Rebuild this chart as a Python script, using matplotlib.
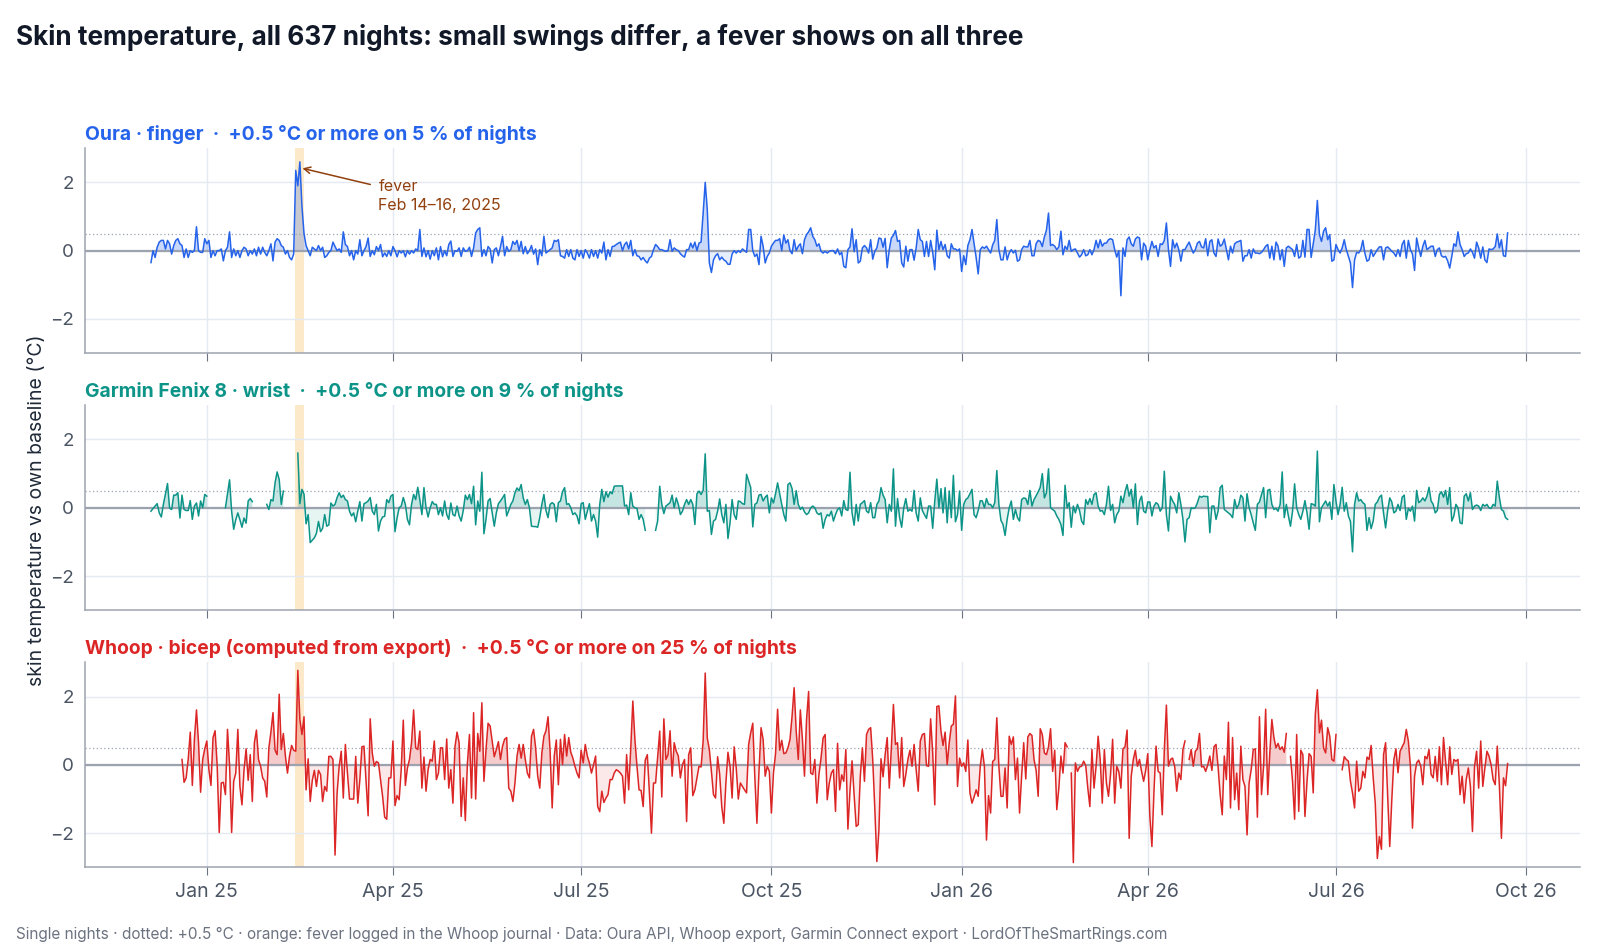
import numpy as np
import pandas as pd
import matplotlib
matplotlib.use("Agg")
import matplotlib.pyplot as plt
import matplotlib.dates as mdates

plt.rcParams['font.family'] = ['Inter', 'DejaVu Sans']

nan = np.nan

# nightly deviation from own baseline (°C), one value per night
oura_start = "2024-12-05"
oura = [
    -0.35, 0.0, -0.2, 0.1, 0.25, 0.3, 0.3, 0.05, 0.3, 0.2,
    -0.1, 0.15, 0.3, 0.35, 0.2, 0.15, -0.2, 0.05, -0.2, 0.0,
    -0.05, 0.0, 0.7, 0.0, -0.05, -0.05, 0.35, 0.2, 0.3, -0.2,
    0.0, -0.15, 0.0, 0.0, 0.05, -0.3, 0.0, 0.1, 0.55, -0.2,
    0.05, -0.15, 0.0, -0.2, 0.0, 0.1, 0.05, -0.15, 0.0, -0.1,
    0.05, -0.15, 0.1, -0.1, 0.1, -0.05, -0.15, 0.0, 0.2, -0.3,
    0.25, 0.35, 0.3, 0.15, 0.1, -0.1, 0.0, -0.2, -0.27, -0.1,
    2.35, 1.9, 2.6, 1.3, 0.5, 0.15, 0.0, -0.15, 0.1, 0.05,
    0.0, 0.15, 0.0, 0.1, -0.2, -0.15, -0.05, 0.0, 0.25, 0.12,
    0.0, 0.05, -0.05, 0.55, 0.18, 0.12, -0.15, 0.0, -0.27, 0.0,
    -0.1, 0.32, -0.15, 0.0, 0.12, 0.37, -0.17, 0.0, -0.12, 0.12,
    0.0, 0.18, -0.18, -0.07, -0.17, 0.0, -0.15, 0.12, 0.0, -0.18,
    0.0, -0.07, 0.0, -0.18, 0.0, -0.1, 0.0, -0.07, 0.05, 0.0,
    0.62, -0.17, 0.08, -0.18, 0.0, -0.25, 0.0, -0.15, 0.08, -0.27,
    0.12, -0.18, 0.0, -0.15, 0.18, 0.28, -0.17, 0.0, -0.02, 0.08,
    -0.17, 0.08, -0.02, 0.0, 0.1, -0.17, 0.08, 0.52, 0.62, 0.67,
    -0.17, 0.03, -0.15, 0.12, 0.05, -0.36, 0.03, 0.08, -0.15, 0.12,
    0.42, -0.15, 0.12, -0.02, 0.03, 0.27, 0.18, 0.3, 0.0, 0.27,
    -0.09, 0.12, -0.09, 0.0, 0.15, -0.1, 0.05, -0.41, 0.03, -0.15,
    0.42, -0.07, -0.02, 0.03, 0.08, 0.3, 0.27, 0.32, -0.15, -0.17,
    -0.22, 0.03, -0.17, 0.03, -0.22, -0.27, 0.03, -0.17, 0.0, -0.22,
    0.03, -0.07, -0.22, 0.03, -0.17, 0.0, -0.22, 0.03, -0.07, 0.25,
    -0.27, 0.03, -0.17, 0.12, 0.13, 0.18, 0.22, 0.25, 0.0, 0.18,
    0.25, 0.05, 0.3, -0.15, 0.03, -0.15, -0.17, -0.27, -0.2, -0.3,
    -0.36, -0.22, -0.17, 0.03, 0.18, 0.12, 0.03, 0.03, 0.0, -0.02,
    0.0, 0.32, -0.02, 0.08, 0.03, 0.0, -0.09, -0.15, -0.19, 0.03,
    0.03, 0.22, 0.08, 0.25, 0.0, 0.22, 0.25, 1.1, 2.0, 1.2,
    -0.36, -0.64, -0.27, -0.15, -0.09, -0.27, -0.19, -0.27, -0.31, -0.4,
    -0.4, -0.1, 0.0, -0.07, 0.0, -0.05, 0.05, 0.0, -0.05, 0.62,
    0.62, 0.0, -0.17, -0.1, -0.41, 0.42, 0.13, -0.36, -0.17, -0.07,
    0.13, 0.22, 0.3, 0.3, 0.35, 0.0, 0.46, 0.22, 0.32, 0.0,
    -0.09, 0.32, 0.0, 0.13, 0.2, -0.09, 0.32, 0.47, 0.55, 0.67,
    0.42, 0.32, 0.13, 0.2, -0.02, -0.07, -0.02, -0.07, -0.02, 0.0,
    0.0, -0.09, 0.05, -0.12, -0.05, -0.46, -0.5, 0.03, 0.11, 0.64,
    -0.03, 0.32, -0.36, -0.31, 0.08, 0.15, 0.08, -0.07, 0.32, -0.25,
    -0.02, 0.08, 0.37, 0.35, 0.1, 0.36, -0.5, 0.03, 0.37, 0.45,
    0.59, 0.27, 0.3, -0.36, -0.48, 0.13, -0.31, 0.03, 0.03, -0.28,
    0.08, 0.62, 0.32, 0.27, -0.17, 0.27, -0.17, 0.3, -0.05, -0.56,
    0.6, 0.03, 0.27, 0.03, 0.18, -0.15, -0.22, 0.2, 0.05, 0.05,
    0.0, 0.05, -0.61, -0.15, -0.41, 0.15, 0.32, 0.62, 0.2, -0.2,
    -0.68, 0.03, 0.11, 0.07, 0.13, 0.03, -0.07, 0.17, 0.3, 0.91,
    0.03, -0.27, -0.27, 0.11, -0.27, -0.07, 0.03, -0.07, 0.01, -0.31,
    -0.27, 0.03, 0.13, 0.11, 0.11, 0.3, -0.15, -0.15, 0.2, 0.3,
    0.27, 0.12, 0.4, 0.6, 1.1, 0.15, 0.18, 0.13, 0.03, 0.11,
    0.57, -0.12, 0.13, 0.03, 0.3, -0.02, 0.03, 0.05, -0.07, -0.19,
    -0.12, 0.03, -0.15, -0.12, 0.03, -0.12, 0.03, 0.3, 0.08, 0.32,
    0.13, 0.22, 0.22, 0.32, 0.35, 0.32, 0.03, -0.19, 0.0, -1.32,
    0.08, -0.17, 0.32, 0.4, 0.2, 0.13, 0.34, 0.4, 0.37, -0.27,
    0.22, 0.13, -0.27, 0.03, 0.27, 0.08, 0.15, -0.17, 0.2, 0.18,
    0.3, 0.81, 0.03, -0.46, 0.32, 0.08, 0.22, 0.03, -0.31, 0.03,
    0.03, 0.15, 0.25, 0.08, -0.07, 0.03, 0.22, 0.27, 0.11, 0.08,
    0.35, -0.15, 0.27, 0.32, -0.07, -0.17, 0.34, 0.13, 0.18, 0.34,
    0.03, -0.27, 0.13, -0.07, 0.2, 0.25, 0.27, 0.3, -0.31, -0.15,
    -0.15, 0.03, -0.22, 0.05, -0.07, -0.07, -0.09, -0.05, 0.03, 0.13,
    0.18, -0.22, 0.13, -0.27, 0.25, 0.13, -0.27, 0.03, -0.46, 0.08,
    0.13, 0.08, 0.03, -0.17, 0.18, -0.22, -0.17, 0.3, -0.19, 0.62,
    0.62, -0.2, 0.2, 0.6, 1.47, 0.47, 0.27, 0.57, 0.67, 0.32,
    0.47, -0.31, -0.27, 0.18, 0.03, -0.07, 0.08, 0.32, 0.03, -0.17,
    -0.36, -1.08, -0.27, -0.05, -0.07, 0.03, 0.3, -0.08, -0.31, -0.27,
    0.03, -0.17, -0.07, 0.03, 0.11, 0.11, -0.27, 0.08, 0.11, 0.05,
    -0.02, -0.07, -0.17, 0.03, -0.17, 0.18, 0.3, -0.22, 0.3, 0.03,
    -0.1, -0.58, 0.37, 0.08, -0.17, 0.13, 0.3, 0.03, 0.08, 0.13,
    0.13, -0.17, 0.03, 0.08, -0.15, -0.19, -0.17, -0.3, -0.51, -0.17,
    0.2, 0.13, 0.55, 0.18, 0.03, -0.17, -0.09, -0.07, 0.05, -0.05,
    -0.22, 0.25, 0.08, -0.22, 0.11, -0.27, -0.35, 0.05, 0.03, 0.05,
    0.12, 0.49, 0.08, 0.32, -0.15, -0.17, 0.52,
]

garmin_start = "2024-12-05"
garmin = [
    -0.1, -0.02, 0.05, 0.12, -0.15, -0.27, 0.1, 0.4, 0.71, -0.01,
    -0.05, 0.37, 0.37, 0.44, -0.3, 0.37, -0.05, -0.08, -0.08, 0.21,
    -0.34, 0.05, 0.14, -0.24, 0.2, 0.0, 0.39, 0.34, nan, nan,
    nan, nan, nan, nan, nan, nan, 0.0, 0.4, 0.82, -0.1,
    -0.63, -0.35, -0.15, -0.35, -0.57, -0.3, -0.45, 0.2, 0.27, 0.18,
    nan, nan, nan, nan, nan, nan, 0.1, -0.05, 0.24, 0.2,
    0.73, 1.05, 0.83, 0.1, 0.49, nan, nan, nan, nan, nan,
    nan, 1.6, 0.12, 0.54, 0.4, -0.47, -0.2, -1.02, -0.95, -0.88,
    -0.75, -0.4, -0.7, -0.6, -0.2, -0.54, -0.5, 0.14, 0.05, 0.1,
    0.3, 0.44, 0.3, 0.37, 0.24, 0.2, -0.1, -0.24, -0.15, -0.41,
    -0.1, 0.18, -0.39, 0.12, 0.15, 0.2, 0.3, -0.1, -0.2, 0.1,
    -0.68, -0.39, -0.27, -0.25, 0.24, 0.15, 0.34, 0.39, -0.7, -0.3,
    0.0, 0.05, 0.3, 0.1, -0.34, -0.5, 0.1, 0.39, 0.24, 0.6,
    0.24, -0.2, 0.59, 0.0, -0.27, 0.0, 0.18, 0.1, 0.1, -0.2,
    0.0, -0.24, 0.2, -0.2, -0.34, 0.14, -0.2, -0.24, 0.05, -0.24,
    -0.39, -0.08, 0.37, 0.24, 0.39, 0.12, 0.63, -0.5, 0.2, -0.1,
    1.04, -0.76, -0.34, 0.2, 0.27, -0.15, -0.54, -0.15, 0.12, 0.2,
    0.29, 0.39, -0.24, -0.08, 0.1, 0.2, 0.44, 0.58, 0.5, 0.68,
    0.29, 0.1, 0.24, 0.0, -0.54, -0.55, -0.55, -0.57, -0.29, 0.1,
    0.39, -0.08, -0.29, 0.1, 0.15, 0.1, -0.41, 0.15, 0.2, 0.47,
    0.59, 0.1, 0.12, 0.0, -0.2, -0.15, -0.24, -0.47, 0.12, 0.15,
    -0.34, -0.1, 0.12, -0.39, -0.2, -0.39, -0.86, 0.1, 0.54, 0.18,
    0.47, 0.31, 0.47, 0.41, 0.63, 0.64, 0.64, 0.64, 0.64, 0.05,
    0.08, -0.2, 0.44, 0.05, 0.0, -0.02, -0.34, -0.2, -0.34, -0.66,
    nan, nan, nan, nan, -0.66, -0.39, 0.63, 0.1, -0.17, 0.05,
    0.1, 0.15, 0.37, 0.0, 0.29, 0.1, -0.2, -0.1, 0.1, 0.24,
    0.1, 0.24, 0.1, -0.49, 0.41, 0.49, 0.39, 0.51, 1.58, -0.1,
    -0.08, -0.78, -0.39, -0.34, -0.1, 0.26, -0.2, -0.44, 0.1, -0.9,
    -0.44, 0.24, -0.2, -0.34, 0.2, 0.18, 0.12, 0.1, 0.98, 0.78,
    0.59, -0.56, 0.1, 0.14, 0.37, 0.39, 0.2, 0.31, 0.37, -0.15,
    0.29, 0.14, 0.41, 0.73, 0.41, 0.1, -0.2, -0.39, 0.68, 0.73,
    0.56, 0.1, 0.5, 0.1, -0.05, 0.02, -0.12, -0.2, -0.15, 0.0,
    0.05, 0.0, -0.15, -0.2, -0.15, -0.6, -0.34, -0.2, -0.24, -0.1,
    -0.39, -0.2, -0.05, 0.0, -0.24, 0.21, -0.05, -0.08, 1.04, -0.15,
    -0.51, 0.1, -0.39, 0.1, 0.15, 0.21, -0.1, -0.15, 0.15, -0.29,
    -0.29, 0.1, 0.2, 0.59, 0.37, 0.24, -0.44, 0.1, -0.1, 1.14,
    -0.54, 0.27, -0.29, -0.57, 0.0, 0.27, -0.1, -0.05, -0.1, 0.51,
    -0.15, -0.39, 0.29, -0.08, -0.2, -0.31, 0.05, 0.05, -0.6, 0.2,
    0.84, 0.0, 0.56, -0.15, 0.59, -0.44, 0.49, -0.29, 0.95, -0.41,
    -0.2, 0.49, -0.66, 0.1, 0.24, 0.29, 0.41, 0.54, -0.2, -0.29,
    -0.08, 0.21, 0.2, 0.0, 0.27, 0.1, 0.1, 0.0, 0.15, 1.09,
    0.1, -0.37, -0.49, -0.81, -0.34, 0.0, 0.2, -0.34, -0.05, -0.29,
    -0.39, 0.24, 0.29, 0.27, 0.1, 0.51, 0.05, 0.24, 0.35, 0.47,
    0.6, 1.0, 0.29, 0.44, 1.14, 0.0, -0.05, -0.1, -0.24, -0.34,
    -0.49, -0.81, 0.66, 0.0, 0.15, -0.57, 0.05, -0.15, 0.1, -0.08,
    -0.39, -0.49, 0.24, 0.1, 0.27, 0.1, 0.39, 0.44, 0.05, -0.1,
    -0.08, -0.2, 0.1, 0.63, -0.08, 0.1, -0.44, -0.2, -0.1, 0.34,
    0.15, 0.47, 0.68, 0.34, 0.54, 0.0, 0.7, -0.49, 0.2, 0.34,
    -0.1, -0.15, 0.17, 0.17, -0.24, 0.05, 0.15, 0.1, -0.1, 0.0,
    1.07, -0.2, -0.68, 0.34, 0.2, 0.1, -0.15, 0.44, 0.1, -0.34,
    -1.0, -0.34, -0.29, 0.0, -0.02, 0.0, 0.15, 0.34, 0.31, 0.34,
    0.33, 0.33, -0.73, 0.05, 0.05, -0.34, -0.1, 0.59, 0.66, -0.05,
    -0.1, -0.15, -0.2, -0.29, 0.24, -0.02, 0.1, 0.37, 0.29, -0.39,
    0.41, 0.0, -0.2, -0.44, -0.66, 0.1, 0.17, 0.39, 0.59, -0.29,
    0.51, 0.54, 0.1, -0.05, -0.02, -0.1, 0.1, 1.05, -0.29, 0.1,
    -0.24, -0.54, -0.1, 0.7, 0.0, -0.2, -0.34, -0.1, 0.21, -0.15,
    -0.63, 0.12, 0.1, 0.05, 1.66, -0.41, 0.0, 0.1, 0.2, 0.05,
    0.17, -0.34, 0.68, 0.2, -0.2, 0.1, 0.6, -0.1, 0.15, -0.24,
    -0.4, -1.29, 0.1, 0.44, 0.2, 0.24, 0.15, 0.1, -0.66, -0.29,
    -0.61, -0.39, 0.1, 0.17, 0.31, 0.37, -0.15, -0.59, -0.08, 0.29,
    0.17, -0.15, -0.1, 0.1, -0.08, 0.31, 0.37, -0.34, -0.02, -0.1,
    0.05, -0.39, 0.51, 0.15, 0.2, 0.29, 0.2, 0.34, 0.6, 0.2,
    0.1, -0.15, -0.08, 0.39, 0.47, 0.31, 0.51, 0.1, 0.59, -0.39,
    -0.24, 0.1, 0.0, -0.44, -0.47, 0.34, 0.41, 0.2, 0.44, -0.05,
    0.05, 0.08, 0.05, -0.08, 0.1, 0.05, 0.1, 0.0, -0.02, 0.1,
    0.05, 0.78, 0.31, -0.05, -0.1, -0.29, -0.34,
]

whoop_start = "2024-12-20"
whoop = [
    0.16, -0.51, -0.38, 0.16, 0.96,
    -0.6, 0.75, 1.61, 0.65, -0.8, 0.16, 0.47, 0.7, -0.14, -0.6,
    0.8, 1.0, 0.0, -1.98, -0.53, -0.51, -0.87, 1.04, 0.0, -1.98,
    -0.48, -0.24, 1.04, -0.63, -1.17, -0.14, 0.47, -0.45, 0.3, -1.07,
    0.65, 1.02, 0.16, -0.04, -0.38, -0.48, -0.94, 0.5, 0.96, 1.53,
    0.43, 0.3, 2.07, 0.45, 0.92, 0.26, -0.24, 0.26, 0.57, 0.43,
    0.4, 2.77, 1.33, 0.89, 1.41, -0.73, 0.18, -1.07, -0.45, -0.16,
    -0.63, -0.16, -0.28, -1.07, -0.63, -0.77, 0.25, 0.25, 0.16, -2.64,
    -0.82, -0.04, 0.4, -0.97, 0.6, -0.24, -1.0, -1.0, -1.0, 0.25,
    -1.12, -0.43, 0.53, 0.55, -0.48, -1.49, 1.35, 0.35, -0.04, 0.1,
    0.06, -0.43, -0.92, -1.53, -1.59, -0.38, -0.38, 0.7, -1.19, -0.9,
    -1.02, -0.14, 1.31, -0.6, -0.09, 0.16, 0.65, 1.61, 0.5, 0.45,
    0.99, -0.68, 0.23, -0.77, -0.14, 0.16, 0.11, 0.7, -0.43, -0.24,
    0.5, 0.5, -0.43, 0.76, -0.68, -0.14, -1.12, 0.53, 0.96, 0.65,
    -1.51, -0.38, -1.63, 0.04, 0.89, -0.97, 1.53, -1.0, 0.92, 0.4,
    1.82, -0.48, 0.45, 1.22, 1.14, 0.7, 0.24, 0.45, 0.68, 0.16,
    0.55, 0.75, 0.8, -0.68, -0.77, -1.07, -0.53, 0.26, 0.6, 0.2,
    0.6, 0.16, -0.24, -0.38, 0.84, 1.04, 0.5, -0.33, -0.68, 0.35,
    0.84, 1.0, 1.41, 0.4, -1.26, 0.26, 0.73, -0.58, 0.75, 0.01,
    0.89, 0.26, 0.8, 0.37, 0.2, -0.04, -0.24, -0.38, 0.43, 0.06,
    0.6, 0.26, 0.06, -0.24, 0.0, 0.26, -1.22, -1.37, -0.77, -1.1,
    -0.97, -0.87, -0.43, -0.43, -0.24, -0.14, -0.18, -0.24, -0.33, -1.12,
    0.3, -0.73, 0.5, 1.87, 0.75, -0.04, -0.73, -0.75, -1.22, 0.14,
    0.3, -0.8, -2.0, -0.53, -0.53, 0.24, 0.99, -0.94, 1.35, 0.16,
    0.3, 1.0, -0.33, 0.65, 0.4, 0.26, -0.38, 0.01, 0.16, -1.66,
    0.3, 0.5, -0.9, -0.73, -0.38, -0.04, -0.06, 0.7, 2.69, 0.79,
    0.45, -0.19, -0.87, -0.97, 0.24, -0.28, -1.22, -1.71, -0.53, 0.37,
    -0.04, -0.97, 0.53, -0.09, -1.0, -0.53, -0.63, -0.73, -0.82, 0.6,
    0.94, 1.22, -0.38, -1.71, -0.19, 1.09, 0.75, -0.33, -0.04, -0.19,
    -1.41, -0.24, 0.33, 1.63, 0.43, 0.72, 0.33, 0.35, 0.5, 0.75,
    1.43, 2.26, 0.99, 0.16, 1.61, 0.75, -0.33, 1.33, 2.15, -0.24,
    -0.28, 0.16, -1.12, -0.28, 0.2, 0.79, 0.89, -1.02, -0.53, -0.24,
    -0.14, -1.36, 0.63, -0.73, -0.29, -0.48, 0.45, -1.88, -0.77, 0.12,
    -0.87, -1.8, -1.75, -0.33, 0.5, -0.48, 0.89, 1.04, 1.09, 0.16,
    -1.27, -2.83, -1.9, 0.18, -0.35, 0.3, 0.8, -0.68, 0.5, 1.77,
    0.6, 0.65, -0.38, 0.8, -0.63, -0.28, 0.16, 0.43, -0.04, 0.6,
    -0.14, -0.77, 0.7, 0.89, 0.92, -0.02, -0.04, 1.35, 0.35, -1.17,
    1.71, 1.73, 0.99, 0.57, 0.96, 0.01, 0.65, 1.14, 1.19, 2.02,
    -0.63, 0.2, -0.04, 0.06, -0.19, 0.73, -0.82, -1.12, -0.94, -0.73,
    -0.92, -0.04, 0.45, -0.04, -2.2, -0.9, -1.41, 0.1, 0.16, 1.38,
    -0.04, -0.92, -0.92, -0.09, -1.26, 0.84, 0.6, 0.82, -0.43, 0.2,
    -1.41, -0.33, 0.65, -0.41, 0.82, 0.92, 0.86, 0.16, -0.16, -0.92,
    1.06, 0.89, 0.35, 0.3, 0.53, 1.06, -0.19, 0.43, -1.31, -0.68,
    0.26, -0.24, 0.65, 0.53, nan, -0.24, -2.86, 0.06, -0.19, -0.06,
    -0.04, 0.11, -0.02, -0.68, -1.22, 0.45, -0.68, -0.04, 0.84, 0.16,
    -1.12, 0.45, -0.53, -0.92, -0.28, 0.75, -1.12, -0.04, -0.2, -0.68,
    0.47, 0.53, 1.02, -2.15, -0.33, 0.16, 0.43, -0.04, 0.16, -0.19,
    -0.48, -0.16, 0.33, -1.51, -2.39, -0.77, 0.55, -0.19, -0.24, -1.46,
    0.45, 1.75, -0.04, 0.16, 0.2, -0.04, -0.77, -0.24, -0.43, 0.45,
    0.7, nan, 0.16, 0.45, -0.04, 0.4, 0.47, 0.92, -0.06, -0.04,
    -0.19, 0.0, 0.26, -0.16, 0.53, 0.6, -0.06, -0.87, -1.46, 0.26,
    -0.43, 1.25, -1.26, 0.8, -1.02, -0.24, -1.31, 0.55, -0.43, -0.63,
    -2.05, -0.53, -0.14, 0.45, 0.47, -1.53, 1.41, -0.87, -0.04, 1.63,
    -0.87, 0.35, 1.33, 0.8, 0.5, 0.63, 0.45, 0.53, 0.37, 0.92,
    nan, 0.25, -0.48, -1.59, 0.89, -1.36, 0.43, 0.3, -1.51, -0.48,
    0.33, 0.25, -0.82, 1.48, 2.2, 0.94, 1.31, 0.5, 0.35, 1.09,
    0.84, 0.16, 0.11, 0.89, nan, nan, -0.14, 0.24, 0.16, 0.11,
    -0.48, -0.82, -1.26, 0.11, -0.77, -0.68, -0.19, -0.38, 0.23, 0.16,
    0.57, -0.38, -1.12, -2.74, -2.1, -2.47, 0.3, 0.65, -0.92, -2.39,
    -1.02, 0.16, 0.47, -0.23, 0.4, 0.53, 0.65, 1.04, 0.7, -0.04,
    -1.85, -0.33, 0.06, 0.14, -0.04, -0.58, 0.25, 0.18, 0.45, -0.28,
    -0.38, 0.25, -0.48, 0.53, -0.58, 0.8, 0.11, -0.58, 0.53, -0.28,
    0.16, 0.11, 0.16, -0.87, -0.33, -1.12, -0.43, -0.09, -0.63, -1.95,
    -0.04, 0.4, -0.68, 0.7, -0.63, -0.09, 0.4, 0.26, 0.01, -0.43,
    -0.58, 0.55, -0.58, -2.15, -0.38, -0.61, 0.04,
]

devices = ["Oura · finger", "Garmin Fenix 8 · wrist", "Whoop · bicep (computed from export)"]
share_above = [5, 9, 25]   # % of nights at +0.5 °C or more
colors = ["#2563eb", "#0d9488", "#dc2626"]
series = [(oura_start, oura), (garmin_start, garmin), (whoop_start, whoop)]

fever_from = pd.Timestamp("2025-02-12 20:00")
fever_to = pd.Timestamp("2025-02-16 20:00")
fever_point = (pd.Timestamp("2025-02-15 14:00"), 2.42)
fever_label_at = (pd.Timestamp("2025-03-25"), 1.6)
x_from, x_to = pd.Timestamp("2024-11-03"), pd.Timestamp("2026-10-27")

fig, axes = plt.subplots(3, 1, figsize=(16, 9.5), dpi=100, sharex=True)
fig.subplots_adjust(left=0.053, right=0.9875, top=0.844, bottom=0.087, hspace=0.255)

for ax, name, pct, col, (start, vals) in zip(axes, devices, share_above, colors, series):
    v = np.array(vals, dtype=float)
    d = pd.date_range(start, periods=len(v), freq="D")
    ax.axvspan(fever_from, fever_to, color="#f59e0b", alpha=0.22, lw=0, zorder=0)
    ax.fill_between(d, 0, v, where=v >= 0, interpolate=True, color=col, alpha=0.24, lw=0, zorder=2)
    ax.fill_between(d, 0, v, where=v < 0, interpolate=True, color=col, alpha=0.10, lw=0, zorder=2)
    ax.axhline(0, color="#9ca3af", lw=1.6, zorder=3)
    ax.axhline(0.5, color="#9ca3af", lw=0.9, ls=(0, (1, 2)), zorder=3)
    ax.plot(d, v, color=col, lw=1.1, zorder=4)

    ax.set_ylim(-3, 3)
    ax.set_yticks([-2, 0, 2])
    ax.grid(True, color="#e5e9f2", lw=1)
    ax.set_axisbelow(True)
    for s in ["top", "right"]:
        ax.spines[s].set_visible(False)
    for s in ["left", "bottom"]:
        ax.spines[s].set_color("#9ca3af")
        ax.spines[s].set_linewidth(1.1)
    ax.tick_params(axis="y", length=0, pad=8, labelsize=13.5, labelcolor="#4b5563")
    ax.tick_params(axis="x", length=6, color="#6b7280", pad=5, labelsize=14, labelcolor="#4b5563")
    ax.set_title(f"{name}  ·  +0.5 °C or more on {pct} % of nights", loc="left",
                 fontsize=13.9, fontweight="bold", color=col, pad=6)

axes[-1].set_xlim(x_from, x_to)
axes[-1].xaxis.set_major_locator(mdates.MonthLocator(bymonth=[1, 4, 7, 10]))
axes[-1].xaxis.set_major_formatter(mdates.DateFormatter("%b %y"))

axes[0].annotate("fever\nFeb 14–16, 2025", xy=fever_point, xytext=fever_label_at,
                 ha="left", va="center", fontsize=11.5, color="#92400e", linespacing=1.35,
                 arrowprops=dict(arrowstyle="->", color="#92400e", lw=1.1,
                                 relpos=(0, 0.78), shrinkA=4, shrinkB=1))

fig.text(0.0102, 0.961, "Skin temperature, all 637 nights: small swings differ, a fever shows on all three",
         fontsize=18.85, fontweight="bold", color="#111827", va="center")
fig.supylabel("skin temperature vs own baseline (°C)", x=0.017, y=0.463, fontsize=14, color="#1f2937")
fig.text(0.0102, 0.016,
         "Single nights · dotted: +0.5 °C · orange: fever logged in the Whoop journal · "
         "Data: Oura API, Whoop export, Garmin Connect export · LordOfTheSmartRings.com",
         fontsize=11.05, color="#6b7280", va="center")

fig.savefig("out.png", dpi=100)
